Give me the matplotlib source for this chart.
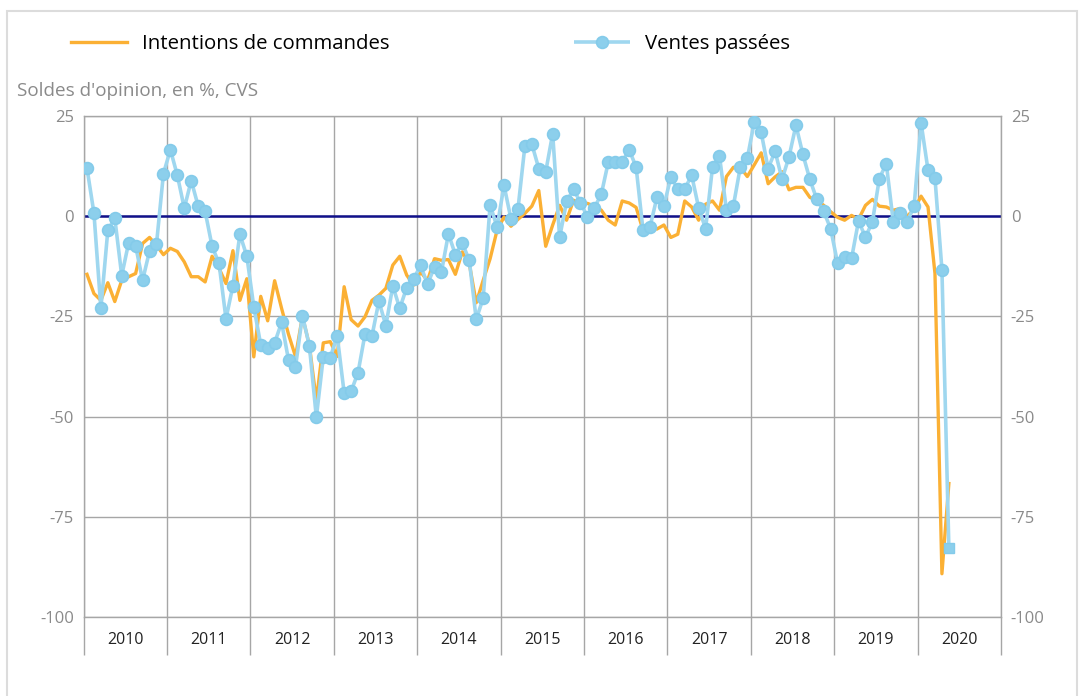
import matplotlib
matplotlib.use("Agg")
import matplotlib.pyplot as plt
import numpy as np
from matplotlib.patches import Rectangle

plt.rcParams['font.family'] = ['Open Sans', 'DejaVu Sans']
plt.rcParams['axes.unicode_minus'] = False

# ---- Data (monthly, Jan 2010 -> May 2020) ----
years = ['2010', '2011', '2012', '2013', '2014', '2015', '2016', '2017', '2018', '2019', '2020']

intentions = [
    -14.5, -19.3, -21, -16.6, -21.3, -16, -15.1, -14.3, -6.8, -5.3, -7.3, -9.6,        # 2010
    -8, -8.8, -11.4, -15.1, -15.1, -16.4, -10, -13, -16.8, -8.6, -21, -15.6,           # 2011
    -35.1, -20, -26.1, -16.1, -23, -29.5, -35, -25, -32.2, -46.1, -31.6, -31.3,        # 2012
    -35, -17.6, -25.8, -27.4, -25.1, -21, -19.7, -18, -12.2, -10, -14.7, -17.2,        # 2013
    -13.9, -16.1, -10.6, -11, -10.8, -14.5, -8.9, -11.8, -21.6, -16, -10.6, -3.5,      # 2014
    -0.2, -2.5, -0.8, 0.7, 2.5, 6.4, -7.5, -2.2, 2.7, -1, 4, 3,                        # 2015
    3.2, 2.5, 1.5, -1, -2.2, 3.8, 3.3, 2.2, -3.5, -2.7, -3.2, -2.2,                    # 2016
    -5.3, -4.5, 3.8, 2.3, -1, 3, 3.8, 1.5, 9.9, 12.2, 12.2, 9.9,                       # 2017
    12.8, 15.8, 8.1, 9.8, 11.1, 6.6, 7.2, 7.2, 4.7, 4, 2.7, 1.1,                       # 2018
    -0.3, -1, 0.2, -0.8, 2.7, 4.2, 2.5, 2.3, 1.5, 1.9, 0, 1.7,                         # 2019
    5, 2.3, -14.3, -89.2, -66.7,                                                       # 2020
]

ventes = [
    12, 0.8, -23, -3.5, -0.5, -14.8, -6.6, -7.4, -16, -8.7, -7, 10.6,                  # 2010
    16.6, 10.2, 2, 8.9, 2.5, 1.2, -7.5, -11.8, -25.6, -17.3, -4.5, -10,                # 2011
    -22.6, -32.1, -32.9, -31.6, -26.5, -35.9, -37.6, -24.8, -32.4, -50.2, -35.1, -35.3,  # 2012
    -29.8, -44.1, -43.7, -39, -29.4, -29.9, -21.2, -27.3, -17.4, -23, -17.8, -15.6,    # 2013
    -12.3, -17, -12.6, -13.9, -4.4, -9.6, -6.7, -11, -25.7, -20.5, 2.8, -2.7,          # 2014
    7.7, -0.7, 1.7, 17.5, 18, 11.9, 11.1, 20.6, -5.3, 3.7, 6.7, 3.4,                   # 2015
    -0.2, 2.1, 5.5, 13.5, 13.5, 13.5, 16.6, 12.3, -3.5, -2.7, 4.7, 2.5,                # 2016
    9.8, 6.8, 6.8, 10.2, 2.1, -3.1, 12.3, 15, 1.5, 2.6, 12.3, 14.4,                    # 2017
    23.5, 20.9, 11.9, 16.2, 9.2, 14.8, 22.7, 15.4, 9.2, 4.2, 1.2, -3.2,                # 2018
    -11.8, -10.3, -10.5, -1.2, -5.2, -1.4, 9.4, 13.1, -1.4, 0.7, -1.4, 2.5,            # 2019
    23.3, 11.5, 9.5, -13.3, -82.7,                                                     # 2020
]

y_ticks = [-100, -75, -50, -25, 0, 25]

ORANGE = '#fbb034'
BLUE = '#9fd7ef'
BLUE_MK = '#8ccfec'
GRID = '#a6a6a6'
TXT_GRAY = '#8a8a8a'

W, H = 1081, 696
fig = plt.figure(figsize=(W / 100, H / 100), dpi=100)
ax = fig.add_axes([83.5 / W, 1 - 617 / H, (1001 - 83.5) / W, (617 - 116) / H])

x = np.arange(len(ventes)) + 0.5

# ---- Grid / axes ----
n_months = 12 * len(years)
ax.set_xlim(0, n_months)
ax.set_ylim(-100, 25)
ax.set_yticks(y_ticks)
ax.set_xticks(np.arange(0, n_months + 1, 12))
ax.set_xticks(np.arange(6, n_months, 12), minor=True)
ax.set_xticklabels([''] * (len(years) + 1))
ax.set_xticklabels(years, minor=True)
ax.grid(True, which='major', color=GRID, lw=1.0)
ax.axhline(0, color='#10108a', lw=1.8, zorder=2)

for s in ax.spines.values():
    s.set_color(GRID)
    s.set_linewidth(1.0)

ax.tick_params(axis='x', which='major', length=27, width=1.0, color=GRID, direction='out')
ax.tick_params(axis='x', which='minor', length=0, pad=11, labelsize=11.5, labelcolor='#222222')
ax.tick_params(axis='y', length=0, labelsize=12, labelcolor=TXT_GRAY,
               labelleft=True, labelright=True, pad=7)

# ---- Series ----
l1, = ax.plot(x[:len(intentions)], intentions, color=ORANGE, lw=2.4, zorder=3,
              label='Intentions de commandes')
l2, = ax.plot(x, ventes, color=BLUE, lw=2.6, zorder=4, marker='o', ms=8.5,
              mfc=BLUE_MK, mec='#84cbea', mew=1.2, markevery=list(range(len(ventes) - 1)),
              label='Ventes passées', solid_capstyle='butt')
ax.plot(x[-1:], ventes[-1:], ls='none', marker='s', ms=7.5, mfc=BLUE_MK, mec='#84cbea',
        mew=1.0, zorder=5)

# ---- Legend & subtitle ----
fig.legend(handles=[l1, l2], loc='center left', bbox_to_anchor=(71 / W, 1 - 44 / H),
           ncol=2, frameon=False, fontsize=14.7, handlelength=2.75, handletextpad=0.75,
           columnspacing=9.0, borderpad=0, borderaxespad=0)
fig.text(17 / W, 1 - 91 / H, "Soldes d'opinion, en %, CVS", fontsize=13.6, color=TXT_GRAY,
         ha='left', va='center')

# outer frame
fig.add_artist(Rectangle((7 / W, -0.05), (1077 - 7) / W, 1.05 - 11 / H,
                         transform=fig.transFigure, fill=False, ec='#dcdcdc', lw=1.5))

fig.savefig('out.png', dpi=100)
